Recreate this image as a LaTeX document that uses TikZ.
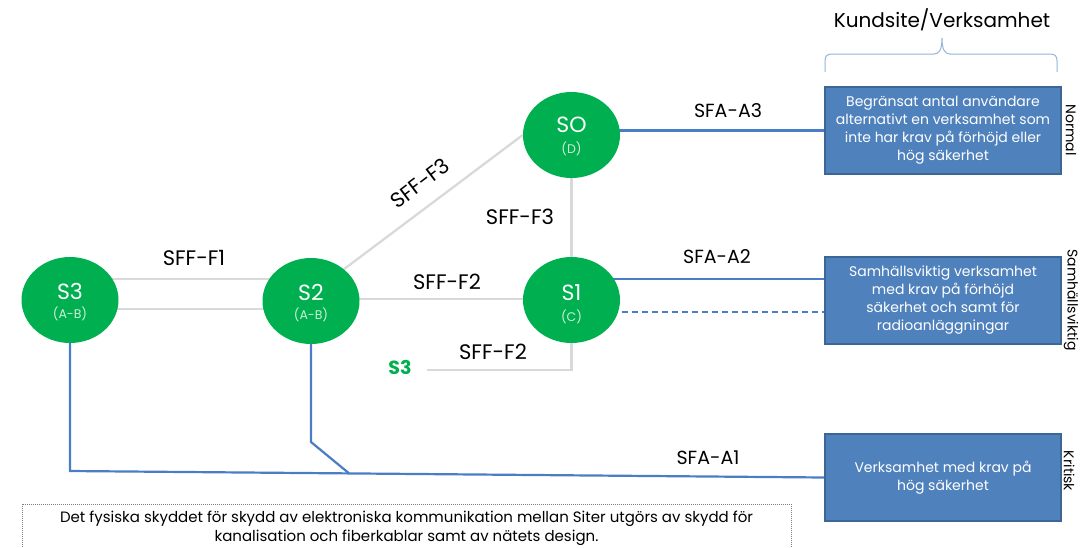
\documentclass[tikz,border=0pt]{standalone}
\usepackage{fontspec}
\setmainfont{Poppins}
\usetikzlibrary{shapes.geometric,backgrounds}
\definecolor{sgreen}{HTML}{00B050}
\definecolor{subgreen}{HTML}{CDEFD8}
\definecolor{fibergray}{HTML}{D9D9D9}
\definecolor{linkblue}{HTML}{4A7EC4}
\definecolor{boxblue}{HTML}{4F81BD}
\definecolor{boxborder}{HTML}{3B6696}
\definecolor{bracecol}{HTML}{95B3D7}
\definecolor{notegray}{HTML}{7F7F7F}
\begin{document}
\begin{tikzpicture}[x=1pt,y=-1pt,
  site/.style={ellipse, fill=sgreen, minimum width=97pt, minimum height=86pt, inner sep=0pt},
  sitename/.style={text=white, font=\fontsize{22}{26}\selectfont, inner sep=0pt},
  sitesub/.style={text=subgreen, font=\fontsize{12.5}{14}\selectfont, inner sep=0pt},
  lbl/.style={font=\fontsize{21}{25}\selectfont, inner sep=0pt},
  alabel/.style={font=\fontsize{19}{23}\selectfont, inner sep=0pt},
  fiber/.style={draw=fibergray, line width=2.3pt},
  access/.style={draw=linkblue, line width=2.2pt},
  cbox/.style={rectangle, fill=boxblue, draw=boxborder, line width=1.3pt, minimum width=236pt, minimum height=87pt, text=white, align=center, font=\fontsize{14}{18}\selectfont, inner sep=0pt},
  side/.style={rotate=-90, font=\fontsize{14}{16}\selectfont, inner sep=0pt},
  bracestyle/.style={draw=bracecol, line width=1pt},
  note/.style={draw=notegray, dash pattern=on 1pt off 1pt, line width=0.6pt, minimum width=769pt, minimum height=48pt, align=center, font=\fontsize{15}{19}\selectfont, inner sep=0pt}
]
\useasboundingbox (0,0) rectangle (1084,547);

% sites
\node[site] (s3) at (70,300) {};
\node[sitename] (s3n) at (70,291) {S3};
\node[sitesub] (s3s) at (70,314) {(A-B)};
\node[site] (s2) at (311,301) {};
\node[sitename] (s2n) at (311,292) {S2};
\node[sitesub] (s2s) at (311,315) {(A-B)};
\node[site] (so) at (571.5,135) {};
\node[sitename] (son) at (571.5,125) {SO};
\node[sitesub] (sos) at (571.5,149) {(D)};
\node[site] (s1) at (571.5,300) {};
\node[sitename] (s1n) at (571.5,293) {S1};
\node[sitesub] (s1s) at (571.5,317) {(C)};

\node[font=\bfseries\fontsize{19}{22}\selectfont, text=sgreen, inner sep=0pt] (s3g) at (400,367) {S3};

% customer boxes
\node[cbox] (b1) at (943,130.5) {Begränsat antal användare\\alternativt en verksamhet som\\inte har krav på förhöjd eller\\hög säkerhet};
\node[cbox] (b2) at (943,300.5) {Samhällsviktig verksamhet\\med krav på förhöjd\\säkerhet och samt för\\radioanläggningar};
\node[cbox] (b3) at (943,477.5) {Verksamhet med krav på\\hög säkerhet};

\node[side] (n1) at (1071,130) {Normal};
\node[side] (n2) at (1071,300) {Samhällsviktig};
\node[side] (n3) at (1069,471) {Kritisk};

\node[font=\fontsize{20}{24}\selectfont, inner sep=0pt] (kund) at (942,20) {Kundsite/Verksamhet};
\draw[bracestyle] (825,72) -- (825,61) .. controls (825,56) and (827,54) .. (832,54) -- (934,54) .. controls (939,54) and (942,50) .. (942,38) .. controls (942,50) and (945,54) .. (950,54) -- (1050,54) .. controls (1055,54) and (1057,56) .. (1057,61) -- (1057,72);

% labels
\node[lbl] (f1) at (194,258) {SFF-F1};
\node[lbl, rotate=37] (f3a) at (420,183) {SFF-F3};
\node[lbl] (f3b) at (520,217) {SFF-F3};
\node[lbl] (f2a) at (447,282) {SFF-F2};
\node[lbl] (f2b) at (493,352) {SFF-F2};
\node[alabel] (a3) at (728,111) {SFA-A3};
\node[alabel] (a2) at (717,257) {SFA-A2};
\node[alabel] (a1) at (708,458) {SFA-A1};

% note
\node[note] (note) at (406.5,528) {Det fysiska skyddet för skydd av elektroniska kommunikation mellan Siter utgörs av skydd för\\kanalisation och fiberkablar samt av nätets design.};

\coordinate (c3) at (70,471);
\coordinate (c2) at (311,442);
\coordinate (j2) at (349,473.3);
\coordinate (c4) at (427,370);

\begin{scope}[on background layer]
\draw[fiber] (s3.center |- 0,279) -- (s2.center |- 0,279);
\draw[fiber] (s3.center |- 0,309) -- (s2.center |- 0,309);
\draw[fiber] (s2.center |- 0,299) -- (s1.center |- 0,299);
\draw[fiber] (s2.44) -- (so.west);
\draw[fiber] (so.center) -- (s1.center);
\draw[fiber] (s1.center) |- (c4);
\draw[access] (so.center |- b1.west) -- (b1.west);
\draw[access] (s1.center |- 0,279) -- (b2.west |- 0,279);
\draw[access, dash pattern=on 6pt off 4pt] (s1.center |- 0,312) -- (b2.west |- 0,312);
\draw[access] (s3.center) -- (c3) -- (b3.west);
\draw[access] (s2.center) -- (c2) -- (j2);
\end{scope}
\end{tikzpicture}
\end{document}
